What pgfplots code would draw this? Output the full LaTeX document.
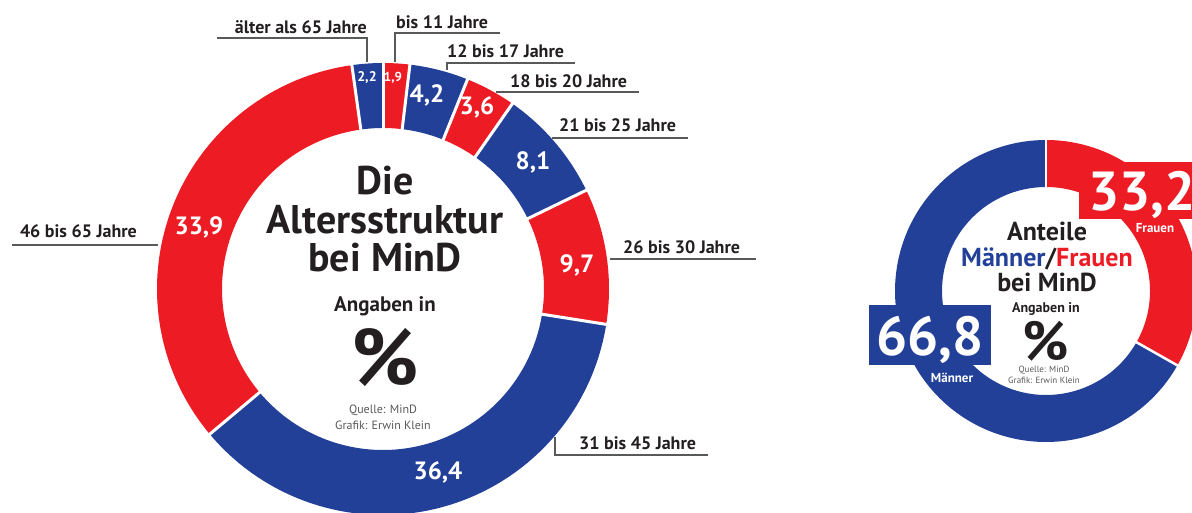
\documentclass[border=0pt]{standalone}
\usepackage{pgfplots}
\pgfplotsset{compat=1.18}
\usepackage{pgfplotstable}
\usepackage{fontspec}
\setmainfont{PT Sans}
\definecolor{mred}{RGB}{237,28,36}
\definecolor{mblue}{RGB}{35,64,153}
\definecolor{ink}{RGB}{35,31,32}
\definecolor{lgray}{RGB}{88,89,91}

\pgfplotstableread{
v c
1.9 mred
4.2 mblue
3.6 mred
8.1 mblue
9.7 mred
36.4 mblue
33.9 mred
2.2 mblue
}\agedata
\pgfplotstableread{
v c
33.2 mred
66.8 mblue
}\sexdata

\newcommand\fs[1]{\fontsize{#1}{#1}\selectfont}

\begin{document}
\begin{tikzpicture}
\useasboundingbox (0,0) rectangle (1192pt,512pt);
\begin{axis}[at={(0,0)}, anchor=south west, scale only axis, width=1192pt, height=512pt,
  xmin=0, xmax=1192, ymin=0, ymax=512, y dir=reverse, hide axis, clip=false, no markers]

% ---- left donut: slices
\def\cum{0}
\pgfplotsforeachungrouped \i in {0,...,7}{%
  \pgfplotstablegetelem{\i}{v}\of\agedata \let\myv\pgfplotsretval
  \pgfplotstablegetelem{\i}{c}\of\agedata \let\myc\pgfplotsretval
  \pgfmathsetmacro\aone{90-3.6*\cum}%
  \pgfmathsetmacro\cum{\cum+\myv}%
  \pgfmathsetmacro\atwo{90-3.6*\cum}%
  \edef\temp{\noexpand\addplot[draw=\myc, line width=65pt, domain=\atwo:\aone, samples=90] ({383+193.5*cos(x)},{289-193.5*sin(x)});}%
  \temp
}
% separators
\def\cum{0}
\pgfplotsforeachungrouped \i in {0,...,7}{%
  \pgfplotstablegetelem{\i}{v}\of\agedata \let\myv\pgfplotsretval
  \pgfmathsetmacro\aone{90-3.6*\cum}%
  \pgfmathsetmacro\cum{\cum+\myv}%
  \edef\temp{\noexpand\addplot[white, line width=3pt, domain=150:235, samples=2] ({383+x*cos(\aone)},{289-x*sin(\aone)});}%
  \temp
}

% ---- right donut: slices
\def\cum{0}
\pgfplotsforeachungrouped \i in {0,1}{%
  \pgfplotstablegetelem{\i}{v}\of\sexdata \let\myv\pgfplotsretval
  \pgfplotstablegetelem{\i}{c}\of\sexdata \let\myc\pgfplotsretval
  \pgfmathsetmacro\aone{90-3.6*\cum}%
  \pgfmathsetmacro\cum{\cum+\myv}%
  \pgfmathsetmacro\atwo{90-3.6*\cum}%
  \edef\temp{\noexpand\addplot[draw=\myc, line width=47pt, domain=\atwo:\aone, samples=120] ({1046+127.5*cos(x)},{291-127.5*sin(x)});}%
  \temp
}
\def\cum{0}
\pgfplotsforeachungrouped \i in {0,1}{%
  \pgfplotstablegetelem{\i}{v}\of\sexdata \let\myv\pgfplotsretval
  \pgfmathsetmacro\aone{90-3.6*\cum}%
  \pgfmathsetmacro\cum{\cum+\myv}%
  \edef\temp{\noexpand\addplot[white, line width=2.5pt, domain=100:155, samples=2] ({1046+x*cos(\aone)},{291-x*sin(\aone)});}%
  \temp
}

% ---- leader lines
\draw[lgray, line width=1.3pt] (axis cs:217,38) -- (axis cs:367,38) -- (axis cs:367,62);
\draw[lgray, line width=1.3pt] (axis cs:500,33) -- (axis cs:395,33) -- (axis cs:395,62);
\draw[lgray, line width=1.3pt] (axis cs:575,63) -- (axis cs:447,63) -- (axis cs:447,70);
\draw[lgray, line width=1.3pt] (axis cs:496,92) -- (axis cs:639,92);
\draw[lgray, line width=1.3pt] (axis cs:552,138) -- (axis cs:688,138);
\draw[lgray, line width=1.3pt] (axis cs:610,259) -- (axis cs:756,259);
\draw[lgray, line width=1.3pt] (axis cs:555,437) -- (axis cs:555,455) -- (axis cs:708,455);
\draw[lgray, line width=1.3pt] (axis cs:12,245) -- (axis cs:158,245);

% ---- age labels
\node[font=\bfseries\fs{18}, text=ink, anchor=base east, inner sep=0pt] at (axis cs:367,33) {älter als 65 Jahre};
\node[font=\bfseries\fs{18}, text=ink, anchor=base west, inner sep=0pt] at (axis cs:396,28) {bis 11 Jahre};
\node[font=\bfseries\fs{18}, text=ink, anchor=base west, inner sep=0pt] at (axis cs:447,57) {12 bis 17 Jahre};
\node[font=\bfseries\fs{18}, text=ink, anchor=base west, inner sep=0pt] at (axis cs:510,87) {18 bis 20 Jahre};
\node[font=\bfseries\fs{18}, text=ink, anchor=base west, inner sep=0pt] at (axis cs:559,131) {21 bis 25 Jahre};
\node[font=\bfseries\fs{18}, text=ink, anchor=base west, inner sep=0pt] at (axis cs:623,253) {26 bis 30 Jahre};
\node[font=\bfseries\fs{18}, text=ink, anchor=base west, inner sep=0pt] at (axis cs:579,449) {31 bis 45 Jahre};
\begin{scope}
\clip (axis cs:11,200) rectangle (axis cs:200,260);
\node[font=\bfseries\fs{18}, text=ink, anchor=base east, inner sep=0pt] at (axis cs:137,237) {46 bis 65 Jahre};
\end{scope}

% ---- slice values
\node[font=\bfseries\fs{14}, text=white] at (axis cs:367,78) {2,2};
\node[font=\bfseries\fs{13}, text=white] at (axis cs:393,78) {1,9};
\node[font=\bfseries\fs{25}, text=white] at (axis cs:427,95) {4,2};
\node[font=\bfseries\fs{25}, text=white] at (axis cs:477,107) {3,6};
\node[font=\bfseries\fs{25}, text=white] at (axis cs:533,162) {8,1};
\node[font=\bfseries\fs{25}, text=white] at (axis cs:577,265) {9,7};
\node[font=\bfseries\fs{25}, text=white] at (axis cs:438,472) {36,4};
\node[font=\bfseries\fs{25}, text=white] at (axis cs:199,227) {33,9};

% ---- left centre text
\node[font=\bfseries\fs{40}, text=ink, anchor=base, inner sep=0pt] at (axis cs:385,194) {Die};
\node[font=\bfseries\fs{40}, text=ink, anchor=base, inner sep=0pt] at (axis cs:385,233) {Altersstruktur};
\node[font=\bfseries\fs{40}, text=ink, anchor=base, inner sep=0pt, text depth=0pt] at (axis cs:385,271) {bei MinD};
\node[font=\bfseries\fs{21}, text=ink, anchor=base, inner sep=0pt, text depth=0pt] at (axis cs:385,311) {Angaben in};
\node[font=\bfseries\fs{80}, text=ink, anchor=base, inner sep=0pt, text depth=0pt] at (axis cs:385,385) {\%};
\node[font=\fs{12}, text=lgray, anchor=base, inner sep=0pt, text depth=0pt] at (axis cs:383,413) {Quelle: MinD};
\node[font=\fs{12}, text=lgray, anchor=base, inner sep=0pt, text depth=0pt, text height=8pt] at (axis cs:383,429) {Grafik: Erwin Klein};

% ---- right boxes
\fill[mblue] (axis cs:869,305) rectangle (axis cs:991,365);
\fill[mred] (axis cs:1079,162) rectangle (axis cs:1200,219);
\node[font=\bfseries\fs{55}, text=white, anchor=base, inner sep=0pt, text depth=0pt] at (axis cs:930,355) {66,8};
\node[font=\bfseries\fs{55}, text=white, anchor=base west, inner sep=0pt, text depth=0pt] at (axis cs:1088,210) {33,2};
\node[font=\bfseries\fs{13}, text=white, inner sep=1pt] at (axis cs:952,378) {Männer};
\node[font=\bfseries\fs{13}, text=white, inner sep=1pt] at (axis cs:1155,228) {Frauen};

% ---- right centre text
\node[font=\bfseries\fs{26}, text=ink, anchor=base, inner sep=0pt, text depth=0pt] at (axis cs:1047,240) {Anteile};
\node[font=\bfseries\fs{26}, anchor=base, inner sep=0pt, text depth=0pt] at (axis cs:1047,266) {\textcolor{mblue}{Männer}\textcolor{ink}{/}\textcolor{mred}{Frauen}};
\node[font=\bfseries\fs{26}, text=ink, anchor=base, inner sep=0pt, text depth=0pt] at (axis cs:1047,291) {bei MinD};
\node[font=\bfseries\fs{14}, text=ink, anchor=base, inner sep=0pt, text depth=0pt] at (axis cs:1046,312) {Angaben in};
\node[font=\bfseries\fs{55}, text=ink, anchor=base, inner sep=0pt, text depth=0pt] at (axis cs:1046,360) {\%};
\node[font=\fs{9}, text=lgray, anchor=base, inner sep=0pt, text depth=0pt, text height=6pt] at (axis cs:1044,372) {Quelle: MinD};
\node[font=\fs{9}, text=lgray, anchor=base, inner sep=0pt, text depth=0pt, text height=6pt] at (axis cs:1044,383) {Grafik: Erwin Klein};
\end{axis}
\end{tikzpicture}
\end{document}
